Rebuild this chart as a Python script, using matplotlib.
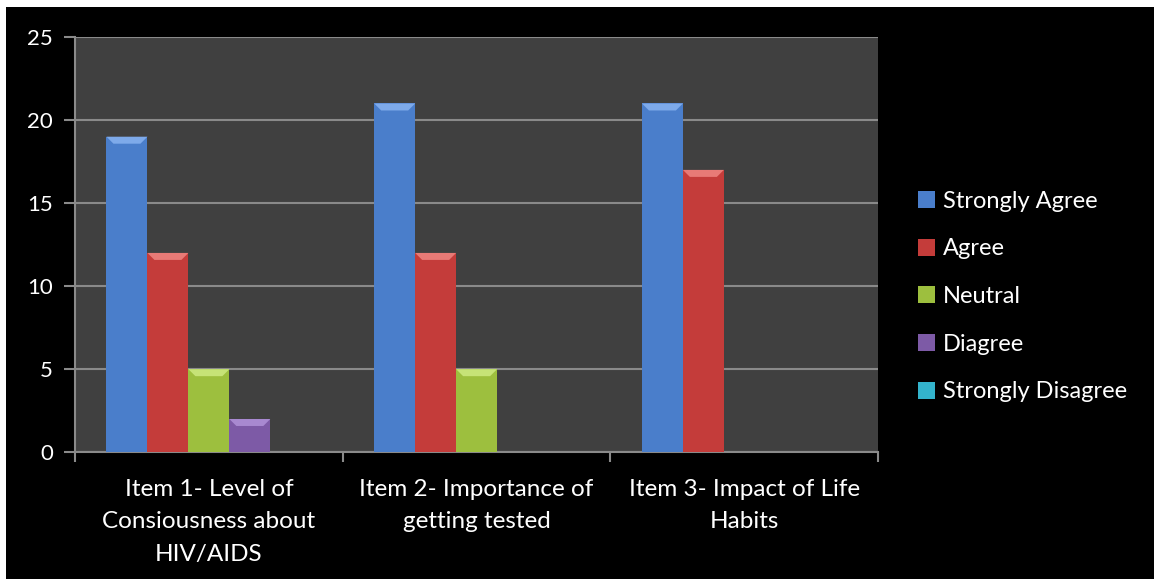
import matplotlib.pyplot as plt
import matplotlib.patches as mpatches
import numpy as np

items = ['Item 1- Level of\nConsiousness about\nHIV/AIDS',
         'Item 2- Importance of\ngetting tested',
         'Item 3- Impact of Life\nHabits']
responses = ['Strongly Agree', 'Agree', 'Neutral', 'Diagree', 'Strongly Disagree']
strongly_agree = [19, 21, 21]
agree = [12, 12, 17]
neutral = [5, 5, 0]
disagree = [2, 0, 0]
strongly_disagree = [0, 0, 0]
yticks = [0, 5, 10, 15, 20, 25]

series = [strongly_agree, agree, neutral, disagree, strongly_disagree]
colors = ['#4a7ecb', '#c43c3a', '#9dbf3e', '#7d5aa6', '#33b3cc']
tops = ['#7eaaea', '#e87a76', '#c6e377', '#a889d0', '#7ad8ea']

plt.rcParams['font.family'] = ['Lato', 'DejaVu Sans']

fig = plt.figure(figsize=(11.54, 5.79), dpi=100, facecolor='white')
# black chart area with a thin white margin on the left and top
fig.patches.append(mpatches.Rectangle((6 / 1154, 0), 1, 1 - 7 / 579,
                                      transform=fig.transFigure,
                                      facecolor='black', zorder=-10))
ax = fig.add_axes([0.065, 0.219, 0.696, 0.717])
ax.set_facecolor('#404040')

x = np.arange(len(items))
w = 0.153
bevel_px = 7

fig.canvas.draw()
ax.set_xlim(-0.5, len(items) - 0.5)
ax.set_ylim(0, 25)

def bevel(ax, xl, width, h, top):
    # light wedge on top of the bar, sized in pixels
    if h <= 0:
        return
    to_px = ax.transData
    x0, y0 = to_px.transform((xl, h))
    x1, _ = to_px.transform((xl + width, h))
    d = min(bevel_px, (x1 - x0) / 2)
    pts_px = [(x0, y0), (x1, y0), (x1 - d, y0 - d), (x0 + d, y0 - d)]
    pts = to_px.inverted().transform(pts_px)
    ax.add_patch(mpatches.Polygon(pts, closed=True, facecolor=top,
                                  edgecolor='none', zorder=4))

for i, vals in enumerate(series):
    pos = x + (i - 2) * w
    ax.bar(pos, vals, width=w, color=colors[i], edgecolor='none',
           zorder=3, label=responses[i])
    for p, v in zip(pos, vals):
        bevel(ax, p - w / 2, w, v, tops[i])

ax.set_yticks(yticks)
ax.yaxis.grid(True, color='#8a8a8a', linewidth=1.5, zorder=0)
ax.set_axisbelow(True)

ax.set_xticks(np.arange(len(items) + 1) - 0.5)
ax.set_xticklabels([])
ax.set_xticks(x, minor=True)
ax.set_xticklabels(items, minor=True, fontsize=17.5, color='white',
                   linespacing=1.68)
ax.tick_params(axis='x', which='minor', length=0, pad=19)
ax.tick_params(axis='x', which='major', length=7, width=1.5, color='#8a8a8a')
ax.tick_params(axis='y', length=8, width=1.5, color='#8a8a8a',
               labelcolor='white', labelsize=16, pad=8)

for s in ['top', 'right']:
    ax.spines[s].set_visible(False)
for s in ['left', 'bottom']:
    ax.spines[s].set_color('#8a8a8a')
    ax.spines[s].set_linewidth(1.5)

leg = ax.legend(loc='center left', bbox_to_anchor=(1.023, 0.375), frameon=False,
                fontsize=17, labelcolor='white', labelspacing=1.13,
                handlelength=0.72, handleheight=0.72, handletextpad=0.35)

fig.savefig('out.png', dpi=100, facecolor=fig.get_facecolor())
